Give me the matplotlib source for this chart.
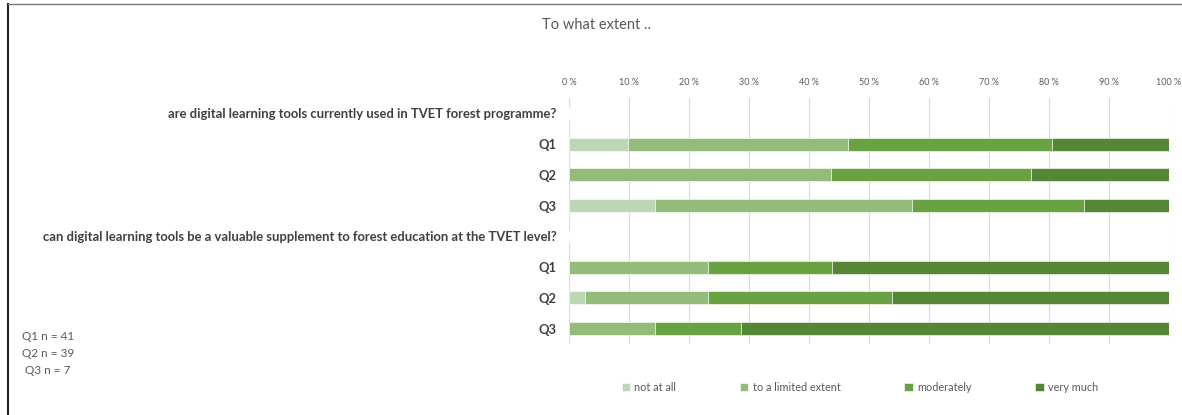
import matplotlib
matplotlib.use("Agg")
import matplotlib.pyplot as plt
import numpy as np

plt.rcParams["font.family"] = ["Lato", "DejaVu Sans"]

# rows top to bottom; heading rows carry no bars
row_labels = [
    "are digital learning tools currently used in TVET forest programme?",
    "Q1", "Q2", "Q3",
    "can digital learning tools be a valuable supplement to forest education at the TVET level?",
    "Q1", "Q2", "Q3",
]
series_names = ["not at all", "to a limited extent", "moderately", "very much"]

# shares in percent per row
not_at_all = [0, 9.8, 0.0, 14.3, 0, 0.0, 2.6, 0.0]
limited    = [0, 36.7, 43.7, 42.9, 0, 23.1, 20.5, 14.3]
moderately = [0, 34.0, 33.3, 28.6, 0, 20.8, 30.8, 14.3]
very_much  = [0, 19.5, 23.0, 14.2, 0, 56.1, 46.1, 71.4]

colors = ["#BDD6B3", "#93BC7B", "#69A242", "#548636"]
text_grey = "#595959"
label_dark = "#404040"

fig = plt.figure(figsize=(11.82, 4.15), dpi=100)
ax = fig.add_axes([569 / 1182, 1 - 344 / 415, 600 / 1182, 246 / 415])

y = np.arange(len(row_labels))
left = np.zeros(len(row_labels))
for name, vals, col in zip(series_names, [not_at_all, limited, moderately, very_much], colors):
    vals = np.array(vals)
    ax.barh(y, vals, left=left, height=0.42, color=col, label=name,
            edgecolor="white", linewidth=0.4, zorder=3)
    left += vals

ax.set_xlim(0, 100)
ax.set_ylim(len(row_labels) - 0.5, -0.5)
ax.set_xticks(np.arange(0, 101, 10))
ax.set_xticklabels([f"{v} %" for v in range(0, 101, 10)], fontsize=6.5, color=text_grey)
ax.xaxis.tick_top()
ax.tick_params(axis="x", length=0, pad=8)
ax.set_yticks(y)
ax.set_yticklabels(row_labels, fontsize=9.4, fontweight="bold", color=label_dark)
ax.tick_params(axis="y", length=0, pad=9)
ax.grid(axis="x", color="#D9D9D9", linewidth=0.8, zorder=0)
for s in ax.spines.values():
    s.set_visible(False)

fig.text(597 / 1182, 1 - 25 / 415, "To what extent ..", ha="center", va="center",
         fontsize=10.5, color=text_grey)

fig.legend(loc="center left", bbox_to_anchor=(622 / 1182, 1 - 387 / 415), ncol=4,
           frameon=False, fontsize=7.8, handlelength=0.75, handleheight=0.75,
           columnspacing=5.9, handletextpad=0.4, labelcolor=text_grey,
           borderaxespad=0, borderpad=0)

fig.text(22 / 1182, 1 - 336 / 415, "Q1 n = 41", fontsize=8.5, color=text_grey, va="center")
fig.text(22 / 1182, 1 - 353 / 415, "Q2 n = 39", fontsize=8.5, color=text_grey, va="center")
fig.text(25 / 1182, 1 - 370 / 415, "Q3 n = 7", fontsize=8.5, color=text_grey, va="center")

# chart frame edges visible in the screenshot
fig.add_artist(plt.Line2D([8 / 1182, 8 / 1182], [0, 1 - 4 / 415], color="#222222", linewidth=1.5))
fig.add_artist(plt.Line2D([8 / 1182, 1], [1 - 4 / 415, 1 - 4 / 415], color="#777777", linewidth=1))

fig.savefig("out.png", dpi=100)
